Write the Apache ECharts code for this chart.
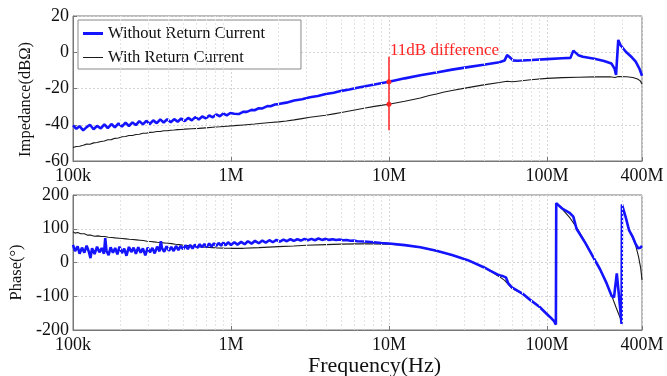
<!DOCTYPE html>
<html>
<head>
<meta charset="utf-8">
<script src="https://cdn.jsdelivr.net/npm/echarts@6/dist/echarts.min.js"></script>
<style>
html,body{margin:0;padding:0;background:#fff;}
#chart{width:667px;height:376px;}
</style>
</head>
<body>
<div id="chart"></div>
<script>
// Frequencies in kHz
const xTickLabels = {100: '100k', 1000: '1M', 10000: '10M', 100000: '100M', 400000: '400M'};
const impedanceTicks = [-60, -40, -20, 0, 20];
const phaseTicks = [-200, -100, 0, 100, 200];
const seriesNames = ['Without Return Current', 'With Return Current'];
const annotationText = '11dB difference';
const annotationFreq = 10000;
const annotationRange = [-2.5, -43];

// Impedance (dBΩ), without return current
const impedanceWithout = [
[100,-40.3],[105,-42.2],[110,-40.8],[116,-43.1],[122,-41.3],[128,-40.0],[135,-42.5],[142,-40.6],[150,-42.0],[158,-39.8],
[166,-41.8],[175,-39.6],[184,-41.4],[194,-39.3],[204,-41.0],[215,-38.8],[226,-40.7],[238,-38.7],[250,-40.2],[263,-38.0],
[277,-39.8],[291,-37.8],[306,-39.6],[322,-37.6],[339,-39.1],[357,-37.0],[375,-38.8],[395,-37.0],[416,-38.6],[437,-36.9],
[460,-38.3],[484,-36.6],[510,-38.0],[536,-36.2],[565,-37.6],[594,-35.8],[625,-37.1],[658,-35.4],[692,-36.5],[729,-34.9],
[767,-35.9],[807,-34.3],[850,-35.3],[894,-33.8],[941,-34.8],[990,-33.5],
[1050,-33.9],[1120,-34.1],[1200,-32.8],[1260,-32.9],[1350,-31.8],[1410,-32.0],[1500,-30.9],[1580,-31.0],[1700,-29.7],
[1780,-29.8],[1900,-28.8],[2000,-28.6],[2240,-27.8],[2510,-26.6],[2820,-25.9],[3160,-24.8],[3550,-24.1],[3980,-23.0],
[4470,-22.3],[5010,-21.3],[5620,-20.5],[6310,-19.6],[7080,-18.8],[7940,-17.9],[8910,-17.1],[10000,-16.3],
[12600,-14.4],[15800,-12.7],[20000,-11.2],[25100,-9.6],[31600,-8.2],[39800,-6.9],[50000,-5.5],[54000,-4.5],
[56000,-1.6],[58000,-2.6],[61000,-4.5],[65000,-4.7],[80000,-4.3],[100000,-3.8],[125000,-3.3],[141000,-3.1],
[147000,0.9],[158000,-1.6],[169000,-2.5],[200000,-3.6],[230000,-4.8],[256000,-6.2],[268000,-9.0],[274000,-12.5],
[283000,6.8],[292000,4.0],[316000,0.3],[345000,-2.8],[365000,-5.2],[385000,-9.0],[400000,-13.0]
];

// Impedance (dBΩ), with return current
const impedanceWith = [
[100,-52.6],[105,-52.0],[110,-51.9],[116,-51.3],[122,-50.7],[128,-50.8],[135,-50.0],[142,-49.8],[150,-49.2],[158,-49.0],
[166,-48.3],[175,-48.2],[184,-47.5],[194,-47.3],[204,-46.6],[215,-46.5],[226,-45.9],[238,-45.9],[250,-45.4],[263,-45.2],
[277,-44.7],[291,-44.7],[306,-44.2],[322,-44.1],[339,-43.7],[357,-43.7],[375,-43.3],[395,-43.3],[416,-43.0],[437,-42.9],
[460,-42.7],[484,-42.6],[510,-42.4],[565,-42.2],[625,-42.0],[692,-41.7],[767,-41.4],[850,-41.1],[941,-40.8],[1050,-40.5],
[1200,-40.1],[1410,-39.6],[1580,-39.2],[1780,-38.8],[2000,-38.4],[2240,-37.9],[2510,-37.3],[2820,-36.6],[3160,-35.9],
[3550,-35.3],[3980,-34.8],[4470,-34.0],[5010,-33.2],[5620,-32.4],[6310,-31.6],[7080,-30.8],[7940,-30.0],[8910,-29.3],
[10000,-28.7],[12600,-27.0],[15800,-25.2],[18000,-23.9],[20000,-23.0],[22400,-21.9],[25100,-21.1],[31600,-19.5],
[39800,-18.0],[50000,-16.7],[56000,-16.0],[60000,-16.3],[63000,-16.1],[79000,-15.2],[100000,-14.4],[126000,-14.0],
[158000,-13.8],[200000,-13.6],[251000,-13.5],[270000,-13.9],[283000,-13.4],[320000,-13.5],[350000,-13.9],
[375000,-14.8],[390000,-15.8],[400000,-17.5]
];

// Phase (°), without return current
const phaseWithout = [
[100,52],[103,34],[107,48],[110,26],[114,44],[118,29],[122,50],[126,32],[129,13],[132,42],[137,25],[142,47],[147,30],
[152,43],[157,26],[160,72],[163,34],[168,22],[173,45],[179,29],[185,43],[191,24],[197,47],[204,28],[211,41],[218,20],
[226,46],[234,31],[242,44],[250,26],[259,45],[268,29],[277,42],[287,21],[297,44],[307,30],[318,43],[329,27],[341,47],
[353,33],[360,63],[366,42],[378,32],[391,48],[405,35],[419,46],[434,34],[449,49],[465,37],[481,49],[498,39],[515,51],
[533,40],[552,52],[571,41],[591,53],[612,43],[634,54],[656,45],[679,55],[703,46],[728,56],[753,47],[780,57],[807,49],
[835,58],[865,50],[895,59],[926,51],[959,60],[1000,52],[1050,60],[1100,53],[1160,61],[1220,54],[1280,63],[1350,56],
[1420,64],[1500,57],[1580,65],[1660,59],[1750,66],[1840,60],[1940,67],[2040,62],[2150,68],[2260,63],[2380,69],[2500,64],
[2630,69],[2770,65],[2920,70],[3070,66],[3230,70],[3400,66],[3580,71],[3770,67],[3970,70],[4180,67],[4400,69],
[4630,66.5],[4870,68],[5130,66],[5400,66.5],[5700,64.5],[6000,65],[6300,63],[7000,62],[8000,60],[9000,58],[10000,56.5],
[12600,51.5],[15800,45],[20000,35],[25100,22],[31600,7],[39800,-14],[44000,-25],[50000,-38],[53000,-41],[55000,-44],
[57000,-62],[60000,-74],[70000,-92],[78000,-110],[90000,-132],[98000,-149],[105000,-162],[111000,-174],[114000,-184],
[114600,176],[125000,160],[140000,146],[147000,136],[154000,100],[175000,58],[196000,17],[217000,-20],[239000,-62],
[257000,-99],[266000,-103],[277000,-32],[286000,-99],[297000,-182],[298500,172],[315000,135],[331000,96],[350000,75],
[363000,57],[378000,42],[390000,44],[400000,49]
];

// Phase (°), with return current
const phaseWith = [
[100,91],[103,87],[107,89],[112,85],[118,85],[124,81],[130,81],[137,78],[144,79],[151,77],[159,77],[167,75],[176,74],
[185,73],[195,72],[205,71],[216,70],[227,69],[239,68],[252,67],[265,66],[279,65],[294,63],[309,62],[325,61],[342,60],
[360,59],[380,58],[400,57],[420,56],[445,54],[470,53],[500,51],[530,50],[560,49],[600,47],[650,46],[700,45],[760,44],
[820,43],[900,42.5],[1000,42],[1200,42],[1500,44],[2000,47],[2500,49],[3000,51],[4000,53],[5000,54.5],[6300,55.3],
[8000,55.3],[10000,54.5],[12600,51],[15800,44.5],[20000,34.5],[25100,21.5],[31600,6.5],[39800,-14.5],[44000,-26],
[50000,-42],[54000,-53],[57000,-65],[60000,-76],[70000,-93],[78000,-110],[90000,-132],[98000,-149],[105000,-162],
[111000,-174],[114000,-180],[114600,175],[125000,158],[140000,132],[154000,104],[175000,60],[196000,18],[217000,-20],
[239000,-63],[257000,-98],[275000,-135],[290000,-162],[297000,-176],[298500,171],[315000,135],[331000,98],[350000,72],
[365000,50],[380000,18],[392000,-15],[400000,-52]
];

const SERIF = "'Liberation Serif', 'Times New Roman', serif";
const BLUE = '#1414ff';
const BLACK = '#1a1a1a';
const RED = '#ff2424';

// minor (log) gridline positions derived from the decades
const minorGrid = [];
[100, 1000, 10000, 100000].forEach(d => {
  for (let k = 2; k <= 9; k++) { if (k * d < 400000) minorGrid.push(k * d); }
});

const valAt = (arr, f) => arr.find(p => p[0] === f)[1];

function fmtFreq(v) {
  const r = Math.round(v);
  if (xTickLabels[r]) return xTickLabels[r];
  if (r >= 350000) return '400M';
  return r < 1000 ? r + 'k' : (r / 1000) + 'M';
}

function xAxisCfg(gi, withName) {
  const c = {
    type: 'log', gridIndex: gi, min: 100, max: 400000, logBase: 10, position: 'bottom',
    axisLine: {show: true, onZero: false, lineStyle: {color: '#777', width: 1}},
    axisTick: {show: true, inside: true, length: 4, lineStyle: {color: '#777'}},
    axisLabel: {formatter: fmtFreq, fontFamily: SERIF, fontSize: 18, color: '#111', margin: 6,
                showMinLabel: true, showMaxLabel: true},
    splitLine: {show: true, lineStyle: {color: '#d4d4d4', type: [2, 2], width: 1}},
    minorTick: {show: false}, minorSplitLine: {show: false}
  };
  if (withName) {
    c.name = 'Frequency(Hz)';
    c.nameLocation = 'middle';
    c.nameGap = 18;
    c.nameTextStyle = {fontFamily: SERIF, fontSize: 22, color: '#111', padding: [0, 0, 0, 34]};
  }
  return c;
}

function yAxisCfg(gi, ticks, name, gap, pad) {
  return {
    type: 'value', gridIndex: gi, min: ticks[0], max: ticks[ticks.length - 1],
    interval: ticks[1] - ticks[0],
    name: name, nameLocation: 'middle', nameGap: gap,
    nameTextStyle: {fontFamily: SERIF, fontSize: 16.5, color: '#111', padding: pad},
    axisLine: {show: true, onZero: false, lineStyle: {color: '#777', width: 1}},
    axisTick: {show: true, inside: true, length: 4, lineStyle: {color: '#777'}},
    axisLabel: {fontFamily: SERIF, fontSize: 18, color: '#111', margin: 4},
    splitLine: {show: true, lineStyle: {color: '#d4d4d4', type: [2, 2], width: 1}}
  };
}

function minorGridSeries(gi) {
  return {
    type: 'line', xAxisIndex: gi, yAxisIndex: gi, data: [], silent: true, z: 1,
    markLine: {
      silent: true, symbol: 'none', animation: false,
      label: {show: false},
      lineStyle: {color: '#e4e4e4', type: [2, 2], width: 1},
      data: minorGrid.map(v => ({xAxis: v}))
    }
  };
}

const chart = echarts.init(document.getElementById('chart'), null, {renderer: 'canvas'});
chart.setOption({
  animation: false,
  backgroundColor: '#fff',
  grid: [
    {left: 73, right: 25, top: 16, height: 145, show: true, borderColor: '#777', borderWidth: 1, backgroundColor: '#fff', containLabel: false, outerBoundsMode: 'none'},
    {left: 73, right: 25, top: 195, height: 135, show: true, borderColor: '#777', borderWidth: 1, backgroundColor: '#fff', containLabel: false, outerBoundsMode: 'none'}
  ],
  legend: {
    left: 78, top: 20, orient: 'vertical',
    backgroundColor: '#fff', borderColor: '#888', borderWidth: 1,
    padding: [5, 36, 3, 5], itemGap: 7, itemWidth: 20, itemHeight: 12,
    textStyle: {fontFamily: SERIF, fontSize: 16.5, color: '#111'},
    data: [
      {name: seriesNames[0], icon: 'path://M0,0H20V3H0Z'},
      {name: seriesNames[1], icon: 'path://M0,0H20V1H0Z'}
    ]
  },
  xAxis: [xAxisCfg(0, false), xAxisCfg(1, true)],
  yAxis: [
    yAxisCfg(0, impedanceTicks, 'Impedance(dBΩ)', 36, [0, 22, 0, 0]),
    yAxisCfg(1, phaseTicks, 'Phase(°)', 44, [0, 20, 0, 0])
  ],
  series: [
    minorGridSeries(0),
    minorGridSeries(1),
    {
      name: seriesNames[1], type: 'line', xAxisIndex: 0, yAxisIndex: 0, data: impedanceWith,
      showSymbol: false, symbol: 'none', z: 3, color: BLACK,
      lineStyle: {color: BLACK, width: 1.1}
    },
    {
      name: seriesNames[0], type: 'line', xAxisIndex: 0, yAxisIndex: 0, data: impedanceWithout,
      showSymbol: false, symbol: 'none', z: 4, color: BLUE,
      lineStyle: {color: BLUE, width: 2.6},
      markLine: {
        silent: true, symbol: 'none', animation: false, label: {show: false}, z: 5,
        lineStyle: {color: RED, width: 1.5, type: 'solid'},
        data: [[{coord: [annotationFreq, annotationRange[0]]}, {coord: [annotationFreq, annotationRange[1]]}]]
      },
      markPoint: {
        silent: true, animation: false, z: 6,
        itemStyle: {color: RED},
        data: [
          {coord: [annotationFreq, valAt(impedanceWithout, annotationFreq)], symbol: 'circle', symbolSize: 5, label: {show: false}},
          {coord: [annotationFreq, valAt(impedanceWith, annotationFreq)], symbol: 'circle', symbolSize: 5, label: {show: false}},
          {coord: [annotationFreq, 1.2], symbol: 'circle', symbolSize: 0,
           label: {show: true, formatter: annotationText, position: 'right', distance: 1,
                   fontFamily: SERIF, fontSize: 17, color: RED}}
        ]
      }
    },
    {
      name: seriesNames[1], type: 'line', xAxisIndex: 1, yAxisIndex: 1, data: phaseWith,
      showSymbol: false, symbol: 'none', z: 3, color: BLACK,
      lineStyle: {color: BLACK, width: 1.1}
    },
    {
      name: seriesNames[0], type: 'line', xAxisIndex: 1, yAxisIndex: 1, data: phaseWithout,
      showSymbol: false, symbol: 'none', z: 4, color: BLUE,
      lineStyle: {color: BLUE, width: 2.6}
    }
  ]
});
</script>
</body>
</html>
